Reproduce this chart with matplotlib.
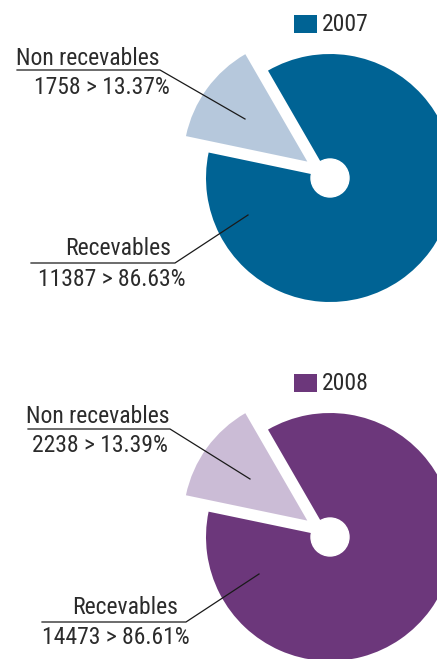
import matplotlib
matplotlib.use("Agg")
import matplotlib.pyplot as plt
from matplotlib.patches import Circle, Rectangle

# Data
labels = ['Non recevables', 'Recevables']
counts_2007 = [1758, 11387]
pct_2007 = [13.37, 86.63]
counts_2008 = [2238, 14473]
pct_2008 = [13.39, 86.61]

colors_2007 = ['#b6c8dc', '#006394']
colors_2008 = ['#cbbcd6', '#6c377b']

W, H = 437, 659
plt.rcParams['font.family'] = ['Roboto Condensed', 'DejaVu Sans']
text_col = '#2b2b2b'
FS = 17

fig = plt.figure(figsize=(W / 100, H / 100), dpi=100)
ax = fig.add_axes([0, 0, 1, 1])


def draw_block(cy, year, counts, pcts, colors, lab_pos):
    # cy is the pie centre in pixel rows from the top
    c = (330, H - cy)
    r = 124
    # pie() offsets exploded wedges in data units here
    ax.pie(counts, colors=colors, startangle=120, counterclock=True,
           explode=[28, 0], radius=r, center=c,
           wedgeprops=dict(linewidth=0))
    ax.add_patch(Circle(c, 19, color='white', zorder=5))

    # legend square
    ax.add_patch(Rectangle((294, H - (cy - 145)), 23, 18, color=colors[1],
                           linewidth=0))
    ax.text(322, H - (cy - 147), year, fontsize=FS, color=text_col,
            va='baseline', ha='left')

    for i, (name, n, p) in enumerate(zip(labels, counts, pcts)):
        (x_name, y_name, x_val, y_val, ul0, ul1, y_ul, end) = lab_pos[i]
        ax.text(x_name, H - y_name, name, fontsize=FS, color=text_col,
                ha='right', va='baseline')
        ax.text(x_val, H - y_val, f'{n} > {p:.2f}%', fontsize=FS,
                color=text_col, ha='right', va='baseline')
        ax.plot([ul0, ul1, end[0]], [H - y_ul, H - y_ul, H - end[1]],
                color='#1a1a1a', linewidth=0.9, zorder=6)


draw_block(178, '2007', counts_2007, pct_2007, colors_2007, [
    (159, 65, 170, 94, 17, 160, 70, (245, 119)),
    (171, 255, 186, 286, 31, 175, 263, (248, 215)),
])
draw_block(537, '2008', counts_2008, pct_2008, colors_2008, [
    (169, 423, 168, 452, 28, 170, 429, (250, 479)),
    (178, 614, 190, 644, 42, 186, 622, (259, 574)),
])

ax.set_xlim(0, W)
ax.set_ylim(0, H)
ax.set_aspect('auto')
ax.axis('off')

fig.savefig('out.png', dpi=100)
